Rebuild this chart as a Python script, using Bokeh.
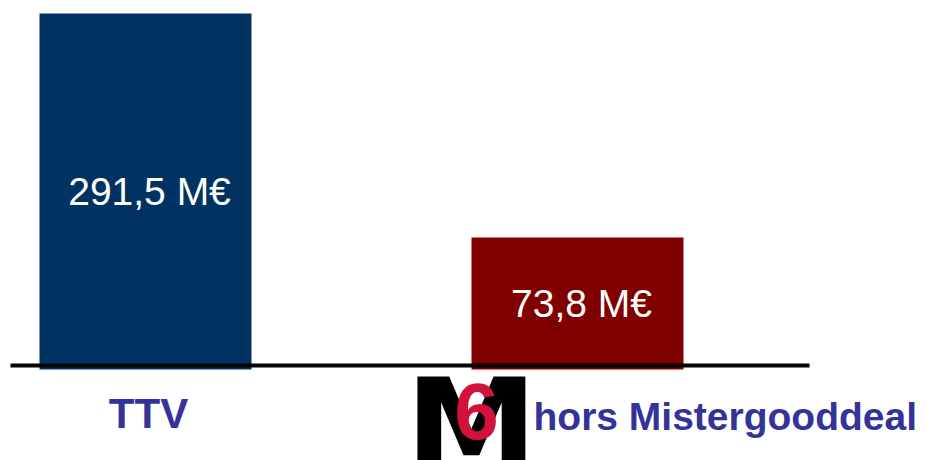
import numpy as np
from bokeh.plotting import figure
from bokeh.models import Range1d, ColumnDataSource
from bokeh.core.properties import value
from bokeh.embed import file_html
from bokeh.resources import INLINE

# ---- data ----
categories = ["TTV", "M6"]
revenue = [291.5, 73.8]                      # M€
value_labels = ["291,5 M€", "73,8 M€"]
category_labels = ["TTV", "hors Mistergooddeal"]

# ---- styling / layout ----
W, H = 950, 460
bar_colors = ["#003362", "#800000"]
label_blue = "#333399"
px_per_unit = 432.0
x_start = -145 / px_per_unit
x_end = x_start + W / px_per_unit
bar_width = 212 / px_per_unit

y_lo, y_hi = 18.80, 315.7      # hidden log axis range
bar_bottom = 32.85
base_level = 33.66

x = np.arange(len(categories), dtype=float)
tops = np.array(revenue)
mid = np.sqrt(tops * bar_bottom)

src = ColumnDataSource(dict(x=x, top=tops, mid=mid, color=bar_colors,
                            vlab=value_labels))

p = figure(width=W, height=H, output_backend="svg", toolbar_location=None,
           x_range=Range1d(x_start, x_end), y_range=Range1d(y_lo, y_hi),
           y_axis_type="log", min_border=0, outline_line_color=None)
p.axis.visible = False
p.grid.visible = False
p.background_fill_color = "white"
p.border_fill_color = "white"

p.vbar(x="x", top="top", bottom=bar_bottom, width=bar_width, color="color",
       line_color=None, source=src)

# baseline
p.segment(x0=[x[0] - (145 - 10) / px_per_unit], x1=[x[-1] + (809 - 577) / px_per_unit],
          y0=[base_level], y1=[base_level], line_color="black", line_width=4)

# values inside bars
p.text(x="x", y="mid", text="vlab", source=src, text_color="white",
       text_font=value("Liberation Sans"), text_font_size="39px",
       text_align="center", text_baseline="middle", x_offset=4)

# category labels
p.text(x=[x[0]], y=[bar_bottom], text=[category_labels[0]], text_color=label_blue,
       text_font=value("Liberation Sans"), text_font_style="bold",
       text_font_size="42px", text_align="center", text_baseline="middle",
       x_offset=3, y_offset=44)
p.text(x=[x[1]], y=[bar_bottom], text=[category_labels[1]], text_color=label_blue,
       text_font=value("Liberation Sans"), text_font_style="bold",
       text_font_size="39px", text_align="left", text_baseline="middle",
       x_offset=-44, y_offset=47)

# M6 logo (approximation with type; the logo is cut by the bottom edge as in the original)
p.text(x=[x[1]], y=[bar_bottom], text=["M"], text_color="black",
       text_font=value("DejaVu Sans"), text_font_style="bold",
       text_font_size="133px", text_align="center", text_baseline="middle",
       x_offset=-106, y_offset=59)
p.text(x=[x[1]], y=[bar_bottom], text=["6"], text_color="#d3123c",
       text_font=value("Liberation Sans"), text_font_style="bold",
       text_font_size="80px", text_align="center", text_baseline="middle",
       x_offset=-101, y_offset=42)

open("out.html", "w").write(file_html(p, INLINE))
